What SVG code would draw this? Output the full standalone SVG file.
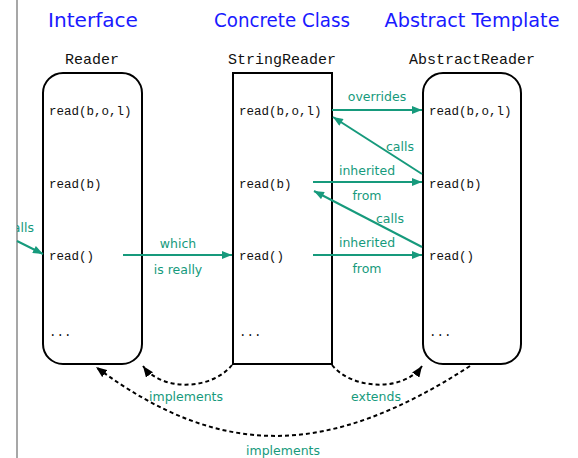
<svg xmlns="http://www.w3.org/2000/svg" width="578" height="458" viewBox="0 0 578 458">
  <style>
    .title { font-family: "DejaVu Sans", "Noto Sans", sans-serif; font-size: 19px; fill: #1a1aff; text-anchor: middle; }
    .cls { font-family: "Liberation Mono", "DejaVu Sans Mono", monospace; font-size: 15px; fill: #111; text-anchor: middle; }
    .m { font-family: "Liberation Mono", "DejaVu Sans Mono", monospace; font-size: 12.5px; fill: #111; }
    .box { fill: #fff; stroke: #000; stroke-width: 2; }
    .lbl { font-family: "DejaVu Sans", "Noto Sans", sans-serif; font-size: 12.5px; fill: #169a7c; text-anchor: middle; }
    .flow { fill: none; stroke: #169a7c; stroke-width: 2; marker-end: url(#tealHead); }
    .rel { fill: none; stroke: #000; stroke-width: 2; stroke-dasharray: 4 3; marker-end: url(#blackHead); }
  </style>
  <defs>
    <marker id="tealHead" viewBox="0 0 10 8" refX="10" refY="4" markerWidth="11" markerHeight="8" markerUnits="userSpaceOnUse" orient="auto">
      <path d="M0,0 L10,4 L0,8 Z" fill="#169a7c"/>
    </marker>
    <marker id="blackHead" viewBox="0 0 10 8" refX="10" refY="4" markerWidth="11" markerHeight="9" markerUnits="userSpaceOnUse" orient="auto">
      <path d="M0,0 L10,4 L0,8 Z" fill="#000"/>
    </marker>
    <clipPath id="pageClip">
      <rect x="17" y="0" width="561" height="458"/>
    </clipPath>
  </defs>

  <rect width="578" height="458" fill="#fff"/>
  <!-- page edge -->
  <line x1="17" y1="0" x2="17" y2="458" stroke="#8a8a8a" stroke-width="1.5"/>

  <!-- column headings -->
  <g id="headings">
    <text class="title" x="93" y="27" textLength="90" lengthAdjust="spacingAndGlyphs">Interface</text>
    <text class="title" x="282" y="27" textLength="136" lengthAdjust="spacingAndGlyphs">Concrete Class</text>
    <text class="title" x="472" y="27" textLength="175" lengthAdjust="spacingAndGlyphs">Abstract Template</text>
  </g>

  <g id="reader">
    <text class="cls" x="92" y="64">Reader</text>
    <rect class="box" x="43" y="73" width="99" height="291" rx="20" ry="20"/>
    <text class="m" x="49" y="115">read(b,o,l)</text>
    <text class="m" x="49" y="188">read(b)</text>
    <text class="m" x="49" y="260">read()</text>
    <text class="m" x="49" y="336">...</text>
  </g>

  <g id="stringReader">
    <text class="cls" x="282" y="64">StringReader</text>
    <rect class="box" x="233" y="73" width="99" height="291"/>
    <text class="m" x="239" y="115">read(b,o,l)</text>
    <text class="m" x="239" y="188">read(b)</text>
    <text class="m" x="239" y="260">read()</text>
    <text class="m" x="239" y="336">...</text>
  </g>

  <g id="abstractReader">
    <text class="cls" x="472" y="64">AbstractReader</text>
    <rect class="box" x="423" y="73" width="98" height="291" rx="20" ry="20"/>
    <text class="m" x="429" y="115">read(b,o,l)</text>
    <text class="m" x="429" y="188">read(b)</text>
    <text class="m" x="429" y="260">read()</text>
    <text class="m" x="429" y="336">...</text>
  </g>

  <g id="connectors">
    <!-- method calls -->
    <path class="flow" d="M17,241 L43,254"/>
    <text class="lbl" x="20" y="232" clip-path="url(#pageClip)">calls</text>

    <path class="flow" d="M123,255 L232,255"/>
    <text class="lbl" x="178" y="248">which</text>
    <text class="lbl" x="178" y="274">is really</text>

    <path class="flow" d="M332,110 L422,110"/>
    <text class="lbl" x="377" y="101">overrides</text>

    <path class="flow" d="M422,174 L333,117"/>
    <text class="lbl" x="400" y="151">calls</text>

    <path class="flow" d="M313,182 L422,182"/>
    <text class="lbl" x="367" y="175">inherited</text>
    <text class="lbl" x="367" y="200">from</text>

    <path class="flow" d="M422,247 L314,191"/>
    <text class="lbl" x="390" y="223">calls</text>

    <path class="flow" d="M313,255 L422,255"/>
    <text class="lbl" x="367" y="247">inherited</text>
    <text class="lbl" x="367" y="273">from</text>

    <!-- class relationships -->
    <path class="rel" d="M232,365 C212,390 162,392 143,366"/>
    <text class="lbl" x="186" y="401">implements</text>

    <path class="rel" d="M332,365 C352,390 404,392 422,366"/>
    <text class="lbl" x="376" y="401">extends</text>

    <path class="rel" d="M470,366 C331,456 223,462 96,367"/>
    <text class="lbl" x="283" y="455">implements</text>
  </g>
</svg>
